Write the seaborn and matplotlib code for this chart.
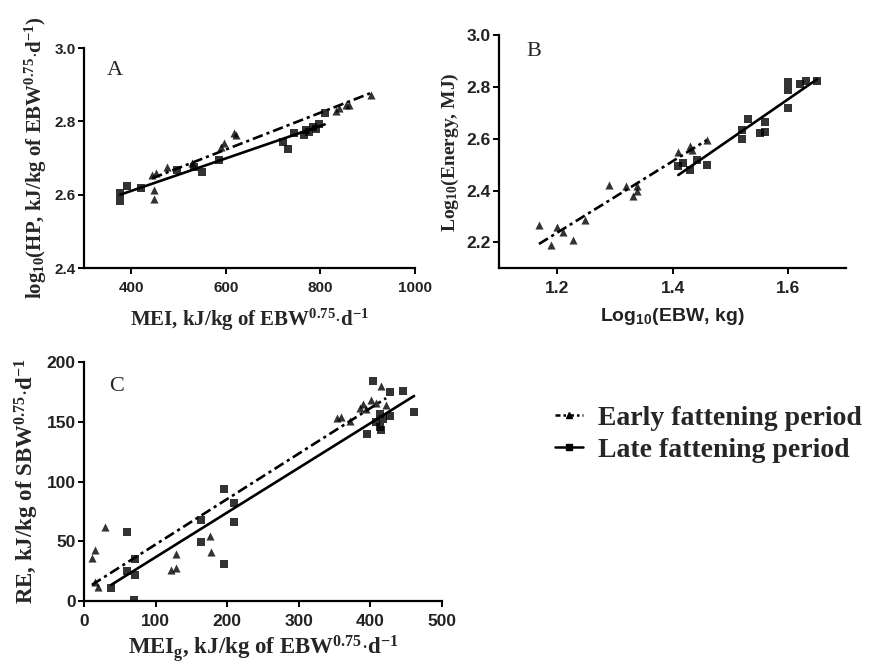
import matplotlib
matplotlib.use('Agg')
import matplotlib.pyplot as plt
from matplotlib.lines import Line2D
import seaborn as sns

# Panel A: MEI vs log10(HP)
a_early_x = [444, 448, 448, 452, 476, 529, 590, 597, 618, 622, 833, 840, 854, 860, 907]
a_early_y = [2.655, 2.614, 2.588, 2.660, 2.677, 2.686, 2.730, 2.740, 2.768, 2.764, 2.828, 2.836, 2.845, 2.845, 2.873]
a_late_x = [377, 377, 392, 420, 497, 533, 550, 586, 720, 731, 745, 766, 770, 776, 784, 790, 797, 809]
a_late_y = [2.582, 2.606, 2.623, 2.618, 2.668, 2.675, 2.662, 2.695, 2.745, 2.725, 2.768, 2.764, 2.777, 2.770, 2.786, 2.780, 2.792, 2.823]

# Panel B: log10(EBW) vs log10(Energy)
b_early_x = [1.169, 1.190, 1.200, 1.210, 1.228, 1.249, 1.290, 1.320, 1.332, 1.339, 1.338, 1.410, 1.430, 1.433, 1.459]
b_early_y = [2.268, 2.188, 2.258, 2.240, 2.208, 2.288, 2.420, 2.416, 2.380, 2.397, 2.416, 2.548, 2.572, 2.558, 2.597]
b_late_x = [1.410, 1.418, 1.430, 1.442, 1.460, 1.520, 1.520, 1.531, 1.551, 1.560, 1.560, 1.600, 1.600, 1.600, 1.620, 1.630, 1.650]
b_late_y = [2.493, 2.506, 2.480, 2.520, 2.500, 2.600, 2.635, 2.677, 2.622, 2.628, 2.666, 2.719, 2.790, 2.818, 2.810, 2.825, 2.822]

# Panel C: MEIg vs RE
c_early_x = [11, 15, 29, 16, 19, 121, 128, 128, 176, 177, 354, 359, 371, 385, 389, 394, 401, 408, 415, 422]
c_early_y = [36, 43, 62, 16, 12, 26, 28, 39, 54, 41, 153, 154, 151, 162, 165, 161, 168, 166, 180, 164]
c_late_x = [38, 60, 60, 71, 71, 70, 164, 164, 195, 195, 210, 210, 395, 404, 408, 413, 413, 415, 417, 427, 428, 446, 461]
c_late_y = [11, 58, 25, 35, 22, 1, 49, 68, 94, 31, 82, 66, 140, 184, 150, 157, 146, 143, 152, 155, 175, 176, 158]

sns.set_theme(style='ticks')
plt.rcParams['font.family'] = ['Liberation Sans', 'DejaVu Sans']
plt.rcParams['mathtext.fontset'] = 'custom'
plt.rcParams['mathtext.rm'] = 'Liberation Serif:bold'
plt.rcParams['mathtext.it'] = 'Liberation Serif:bold'
plt.rcParams['mathtext.bf'] = 'Liberation Serif:bold'
plt.rcParams['mathtext.sf'] = 'Liberation Sans:bold'

dash_dot = (0, (4, 1.5, 1.2, 1.5))


def serif(size):
    return {'family': 'Liberation Serif', 'weight': 'bold', 'size': size}


fig = plt.figure(figsize=(8.74, 6.67), dpi=100)
ax_a = fig.add_axes([0.0961, 0.598, 0.3787, 0.330])
ax_b = fig.add_axes([0.571, 0.598, 0.397, 0.349])
ax_c = fig.add_axes([0.0961, 0.099, 0.4096, 0.358])


def draw_panel(ax, ex, ey, lx, ly, tick_size):
    sns.regplot(x=ex, y=ey, ax=ax, ci=None, color='black', marker='^',
                scatter_kws={'s': 34, 'linewidths': 0},
                line_kws={'lw': 1.9, 'linestyle': dash_dot})
    sns.regplot(x=lx, y=ly, ax=ax, ci=None, color='black', marker='s',
                scatter_kws={'s': 34, 'linewidths': 0},
                line_kws={'lw': 1.9})
    for side in ['left', 'bottom']:
        ax.spines[side].set_linewidth(1.6)
        ax.spines[side].set_color('black')
    sns.despine(ax=ax)
    ax.tick_params(width=1.4, length=4, color='black', labelsize=tick_size)
    ax.tick_params(axis='x', pad=5.5)
    ax.tick_params(axis='y', pad=2)
    for lab in ax.get_xticklabels() + ax.get_yticklabels():
        lab.set_fontweight('bold')
        lab.set_color('#222222')


draw_panel(ax_a, a_early_x, a_early_y, a_late_x, a_late_y, 11)
ax_a.set_xlim(300, 1000)
ax_a.set_ylim(2.4, 3.0)
ax_a.set_xticks([400, 600, 800, 1000])
ax_a.set_yticks([2.4, 2.6, 2.8, 3.0])
ax_a.set_xlabel(r'MEI, kJ/kg of EBW$^{0.75}$$\cdot$d$^{-1}$', fontdict=serif(15), labelpad=8)
ax_a.set_ylabel(r'log$_{10}$(HP, kJ/kg of EBW$^{0.75}$$\cdot$d$^{-1}$)', fontdict=serif(15))
ax_a.text(0.07, 0.9, 'A', transform=ax_a.transAxes, family='Liberation Serif',
          fontsize=16, va='center')

draw_panel(ax_b, b_early_x, b_early_y, b_late_x, b_late_y, 12.5)
ax_b.set_xlim(1.1, 1.7)
ax_b.set_ylim(2.1, 3.0)
ax_b.set_xticks([1.2, 1.4, 1.6])
ax_b.set_yticks([2.2, 2.4, 2.6, 2.8, 3.0])
ax_b.set_xlabel(r'Log$\mathsf{_{10}}$(EBW, kg)', fontsize=14, fontweight='bold',
                color='#222222', labelpad=7)
ax_b.set_ylabel(r'Log$_{10}$(Energy, MJ)', fontdict=serif(14))
ax_b.text(0.08, 0.93, 'B', transform=ax_b.transAxes, family='Liberation Serif',
          fontsize=16, va='center')

draw_panel(ax_c, c_early_x, c_early_y, c_late_x, c_late_y, 12.5)
ax_c.set_xlim(0, 500)
ax_c.set_ylim(0, 200)
ax_c.set_xticks([0, 100, 200, 300, 400, 500])
ax_c.set_yticks([0, 50, 100, 150, 200])
ax_c.set_xlabel(r'MEI$_g$, kJ/kg of EBW$^{0.75}$$\cdot$d$^{-1}$', fontdict=serif(16.5), labelpad=3)
ax_c.set_ylabel(r'RE, kJ/kg of SBW$^{0.75}$$\cdot$d$^{-1}$', fontdict=serif(16.5))
ax_c.text(0.07, 0.9, 'C', transform=ax_c.transAxes, family='Liberation Serif',
          fontsize=16, va='center')

handles = [
    Line2D([0, 0.5, 1], [0, 0, 0], color='black', lw=1.8, linestyle=(0, (2, 1.2, 1, 1.2)),
           marker='^', markersize=5, markevery=[1], label='Early fattening period'),
    Line2D([0, 0.5, 1], [0, 0, 0], color='black', lw=1.8, marker='s', markersize=5,
           markevery=[1], label='Late fattening period'),
]
fig.legend(handles=handles, loc='center left', bbox_to_anchor=(0.635, 0.349),
           frameon=False, handlelength=1.0, handletextpad=0.55, labelspacing=0.25,
           borderpad=0, borderaxespad=0,
           prop={'family': 'Liberation Serif', 'weight': 'bold', 'size': 20})

fig.savefig('out.png', dpi=100)
